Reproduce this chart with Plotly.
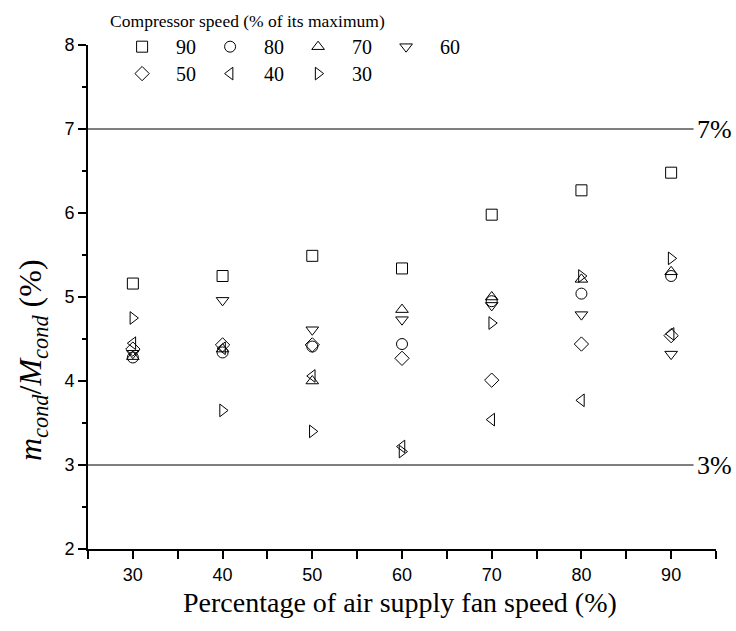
import plotly.graph_objects as go

# ---- data ----
fan_speed = [30, 40, 50, 60, 70, 80, 90]
comp_names = ["90", "80", "70", "60", "50", "40", "30"]
s90 = [5.16, 5.25, 5.49, 5.34, 5.98, 6.27, 6.48]
s80 = [4.28, 4.34, 4.41, 4.44, 4.95, 5.04, 5.25]
s70 = [4.29, 4.38, 4.00, 4.85, 5.00, 5.21, 5.30]
s60 = [4.33, 4.96, 4.61, 4.73, 4.90, 4.79, 4.32]
s50 = [4.38, 4.43, 4.43, 4.27, 4.01, 4.44, 4.54]
s40 = [4.45, 4.39, 4.06, 3.22, 3.54, 3.77, 4.56]
s30 = [4.75, 3.65, 3.40, 3.16, 4.69, 5.25, 5.46]
series = [s90, s80, s70, s60, s50, s40, s30]
symbols = ["square-open", "circle-open", "triangle-up-open", "triangle-down-open",
           "diamond-open", "triangle-left-open", "triangle-right-open"]
legends = ["legend", "legend", "legend", "legend", "legend2", "legend2", "legend2"]
limit_values = [7, 3]
limit_labels = ["7%", "3%"]

SERIF = "Liberation Serif, Times New Roman, serif"
SANS = "Liberation Sans, Arial, sans-serif"

fig = go.Figure()
for name, vals, sym, leg in zip(comp_names, series, symbols, legends):
    fig.add_trace(go.Scatter(
        x=fan_speed, y=vals, mode="markers", name=name, legend=leg,
        marker=dict(symbol=sym, size=11, color="black", line=dict(color="black", width=1)),
    ))

for v, lab in zip(limit_values, limit_labels):
    fig.add_shape(type="line", xref="x", yref="y", x0=25, x1=92.5, y0=v, y1=v,
                  line=dict(color="black", width=1))
    fig.add_annotation(x=92.7, y=v, xref="x", yref="y", text=lab, showarrow=False,
                       xanchor="left", yanchor="middle", font=dict(family=SERIF, size=26, color="black"))

fig.add_annotation(x=0.497, y=-0.107, xref="paper", yref="paper",
                   text="Percentage of air supply fan speed (%)", showarrow=False,
                   xanchor="center", yanchor="middle", font=dict(family=SERIF, size=28, color="black"))
fig.add_annotation(x=-0.089, y=0.375, xref="paper", yref="paper", textangle=-90,
                   text="<i>m</i><sub><i>cond</i></sub>/<i>M</i><sub><i>cond</i></sub> (%)",
                   showarrow=False, xanchor="center", yanchor="middle",
                   font=dict(family=SERIF, size=32, color="black"))

fig.update_layout(
    width=736, height=631,
    margin=dict(l=88, r=20, t=45, b=82, autoexpand=False),
    plot_bgcolor="white", paper_bgcolor="white",
    xaxis=dict(range=[25, 95], tickmode="linear", tick0=30, dtick=10,
               ticks="outside", ticklen=8, tickwidth=1.5, tickcolor="black",
               minor=dict(ticks="outside", ticklen=8, tickwidth=1.5, tick0=25, dtick=5,
                          tickcolor="black", showgrid=False),
               showline=True, linewidth=2, linecolor="black", showgrid=False, zeroline=False,
               tickfont=dict(family=SANS, size=18, color="black")),
    yaxis=dict(range=[2, 8], tickmode="linear", tick0=2, dtick=1,
               ticks="outside", ticklen=8, tickwidth=1.5, tickcolor="black",
               minor=dict(ticks="outside", ticklen=4, dtick=0.5, tick0=2, tickcolor="black", showgrid=False),
               showline=True, linewidth=2, linecolor="black", showgrid=False, zeroline=False,
               tickfont=dict(family=SANS, size=18, color="black")),
    legend=dict(orientation="h", x=0.032, y=1.0805, xanchor="left", yanchor="top",
                itemwidth=58, entrywidth=15, entrywidthmode="pixels", bgcolor="rgba(0,0,0,0)",
                title=dict(text="Compressor speed (% of its maximum)", side="top",
                           font=dict(family=SERIF, size=17.5, color="black")),
                font=dict(family=SERIF, size=20, color="black")),
    legend2=dict(orientation="h", x=0.032, y=0.982, xanchor="left", yanchor="top",
                 itemwidth=58, entrywidth=15, entrywidthmode="pixels", bgcolor="rgba(0,0,0,0)",
                 font=dict(family=SERIF, size=20, color="black")),
    showlegend=True,
)

fig.write_html("out.html")
